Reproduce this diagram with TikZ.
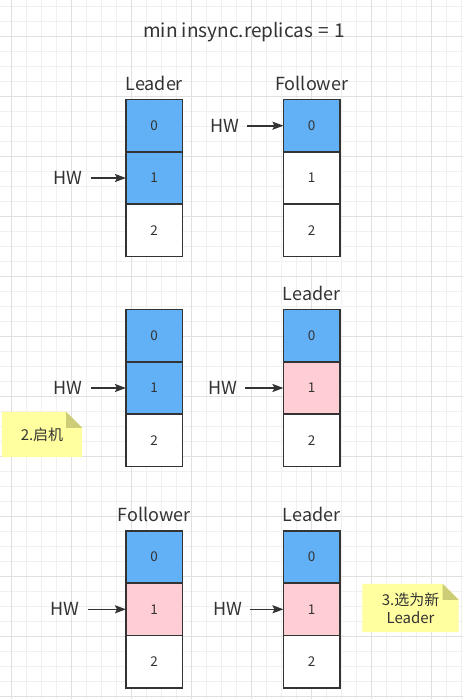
\documentclass[tikz,border=0pt]{standalone}
\usepackage{fontspec}
\setmainfont{Noto Sans CJK SC}
\usetikzlibrary{arrows.meta,positioning,backgrounds}
\definecolor{logblue}{RGB}{98,176,245}
\definecolor{logpink}{RGB}{255,206,212}
\definecolor{inkgray}{RGB}{51,51,51}
\definecolor{gridminor}{RGB}{240,240,240}
\definecolor{gridmajor}{RGB}{224,224,224}
\definecolor{notefill}{RGB}{255,255,160}
\definecolor{notefold}{RGB}{205,205,120}

\begin{document}
\begin{tikzpicture}[x=1pt,y=-1pt,font=\fontsize{18}{21}\selectfont,text=inkgray,
  >={Stealth[length=11pt,width=8pt,inset=2pt]},
  cell/.style={draw=inkgray,line width=1.7pt,minimum width=56.5pt,minimum height=52.3pt,
    inner sep=0pt,outer sep=0pt,font=\fontsize{13.5}{15}\selectfont},
  hw/.style={inner xsep=8pt,inner ysep=0pt},
  role/.style={anchor=base,inner sep=0pt},
  note/.style={minimum width=#1,inner sep=0pt,align=center,font=\fontsize{15}{18}\selectfont},
  arr/.style={->,draw=inkgray,line width=1.6pt}]
\useasboundingbox (0,0) rectangle (463,699);
% grid paper
\begin{scope}[on background layer]
\fill[white] (0,0) rectangle (463,699);
\foreach \gx in {11,26,...,461} \draw[gridminor,line width=1pt] (\gx,0) -- (\gx,699);
\foreach \gy in {6,21,...,696} \draw[gridminor,line width=1pt] (0,\gy) -- (463,\gy);
\foreach \gx in {11,71,...,431} \draw[gridmajor,line width=1pt] (\gx,0) -- (\gx,699);
\foreach \gy in {36,96,...,696} \draw[gridmajor,line width=1pt] (0,\gy) -- (463,\gy);
\end{scope}
\node[font=\fontsize{19}{22}\selectfont] (title) at (244,32) {min insync.replicas {\kern1pt}={\kern1pt} 1};
% row 1
\node[cell,fill=logblue] (r1l0) at (154.2,125.7) {0};
\node[cell,fill=logblue,below=0pt of r1l0] (r1l1) {1};
\node[cell,fill=white,below=0pt of r1l1] (r1l2) {2};
\node[cell,fill=logblue] (r1r0) at (311.7,125.7) {0};
\node[cell,fill=white,below=0pt of r1r0] (r1r1) {1};
\node[cell,fill=white,below=0pt of r1r1] (r1r2) {2};
\node[role] (r1lrole) at ([yshift=9.5pt]r1l0.north) {Leader};
\node[role] (r1rrole) at ([yshift=9.5pt]r1r0.north) {Follower};
\node[hw,left=35pt of r1l1] (r1lhw) {HW};
\node[hw,left=36pt of r1r0] (r1rhw) {HW};
\draw[arr] (r1lhw) -- (r1l1);
\draw[arr] (r1rhw) -- (r1r0);
% row 2
\node[cell,fill=logblue] (r2l0) at (154.2,335.7) {0};
\node[cell,fill=logblue,below=0pt of r2l0] (r2l1) {1};
\node[cell,fill=white,below=0pt of r2l1] (r2l2) {2};
\node[cell,fill=logblue] (r2r0) at (311.7,335.7) {0};
\node[cell,fill=logpink,below=0pt of r2r0] (r2r1) {1};
\node[cell,fill=white,below=0pt of r2r1] (r2r2) {2};
\node[role] (r2rrole) at ([yshift=9.5pt]r2r0.north) {Leader};
\node[hw,left=35pt of r2l1] (r2lhw) {HW};
\node[hw,left=38pt of r2r1] (r2rhw) {HW};
\draw[arr] (r2lhw) -- (r2l1);
\draw[arr] (r2rhw) -- (r2r1);
% row 3
\node[cell,fill=logblue] (r3l0) at (154.2,557) {0};
\node[cell,fill=logpink,below=0pt of r3l0] (r3l1) {1};
\node[cell,fill=white,below=0pt of r3l1] (r3l2) {2};
\node[cell,fill=logblue] (r3r0) at (311.7,557) {0};
\node[cell,fill=logpink,below=0pt of r3r0] (r3r1) {1};
\node[cell,fill=white,below=0pt of r3r1] (r3r2) {2};
\node[role] (r3lrole) at ([yshift=9.5pt]r3l0.north) {Follower};
\node[role] (r3rrole) at ([yshift=9.5pt]r3r0.north) {Leader};
\node[hw,left=38pt of r3l1] (r3lhw) {HW};
\node[hw,left=33pt of r3r1] (r3rhw) {HW};
\draw[arr] (r3lhw) -- (r3l1);
\draw[arr] (r3rhw) -- (r3r1);
% sticky notes
\node[note=80pt,minimum height=45pt] (crash) at (42,434.5) {2.启机};
\node[note=96pt,minimum height=48pt] (elect) at (410.5,608) {3.选为新\\Leader};
\begin{scope}[on background layer]
\foreach \nt in {crash,elect} {
  \fill[notefill] (\nt.south west) -- (\nt.north west) -- ([xshift=-16pt]\nt.north east)
    -- ([yshift=-16pt]\nt.north east) -- (\nt.south east) -- cycle;
  \fill[notefold] ([xshift=-16pt]\nt.north east) -- ([xshift=-16pt,yshift=-16pt]\nt.north east)
    -- ([yshift=-16pt]\nt.north east) -- cycle;
}
\end{scope}
\end{tikzpicture}
\end{document}
